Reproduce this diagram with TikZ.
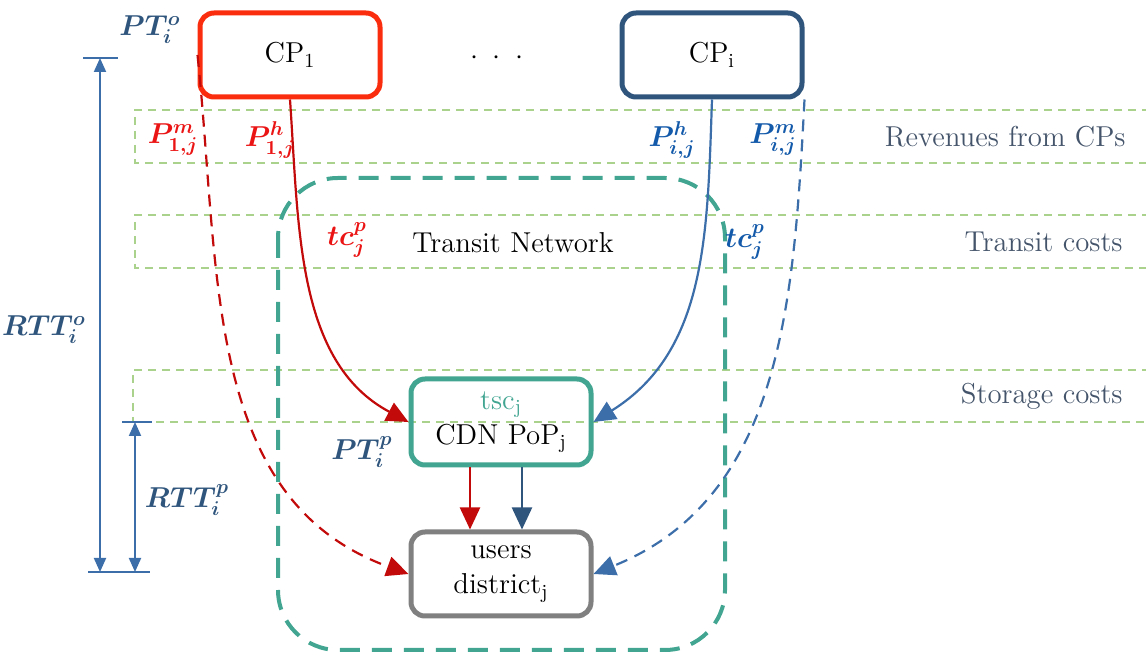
\documentclass[tikz,border=0pt]{standalone}
\usepackage{fontspec}
\usepackage{amsmath,bm}
\usepackage{tikz}
\usetikzlibrary{shapes,arrows,arrows.meta,positioning}
\definecolor{cpred}{RGB}{250,45,15}
\definecolor{cpblue}{RGB}{47,85,125}
\definecolor{arrred}{RGB}{195,10,10}
\definecolor{arrblue}{RGB}{60,110,170}
\definecolor{lblred}{RGB}{235,20,20}
\definecolor{lblblue}{RGB}{20,90,170}
\definecolor{tscteal}{RGB}{65,165,145}
\definecolor{usergray}{RGB}{128,128,128}
\definecolor{bandgreen}{RGB}{170,210,140}
\definecolor{slate}{RGB}{68,84,106}
\tikzstyle{box} = [rectangle, rounded corners=7pt, draw, line width=2.5pt, minimum width=90pt,
    minimum height=42pt, align=center, font=\fontsize{14.4}{17.5}\selectfont]
\tikzstyle{band} = [draw=bandgreen, line width=0.7pt, dash pattern=on 4pt off 3pt]
\tikzstyle{netbox} = [draw=tscteal, line width=2pt, rounded corners=30pt, dash pattern=on 10pt off 6pt]
\tikzstyle{line} = [draw, line width=1.1pt, -{Triangle[length=11pt,width=10pt]}]
\tikzstyle{dashline} = [line, dash pattern=on 6pt off 4pt]
\tikzstyle{dimline} = [draw=arrblue, line width=1pt, {Triangle[length=7pt,width=6pt]}-{Triangle[length=7pt,width=6pt]}]
\tikzstyle{dimtick} = [draw=arrblue, line width=1.2pt]
\tikzstyle{lbl} = [font=\fontsize{14.4}{17}\selectfont, inner sep=1pt]

\begin{document}
\begin{tikzpicture}[x=0.5pt, y=-0.5pt]
    \useasboundingbox (0,0) rectangle (1146,656);

    % Cost bands
    \draw [band] (1150,110) -| (135,163) -- (1150,163);
    \draw [band] (1150,215) -| (135,268) -- (1150,268);
    \draw [band] (1150,370) -| (133,422) -- (1150,422);
    \node [lbl, text=slate, anchor=east] (revenues) at (1128,137) {Revenues from CPs};
    \node [lbl, text=slate, anchor=east] (transitcosts) at (1125,242) {Transit costs};
    \node [lbl, text=slate, anchor=east] (storagecosts) at (1125,396) {Storage costs};

    % Transit network
    \draw [netbox] (278,178) rectangle (725,650);
    \node [lbl] (transit) at (513,243) {Transit Network};

    % Place nodes
    \node [box, draw=cpred] (cpone) at (290,55) {CP$_1$};
    \node [box, draw=cpblue] (cpi) at (712,55) {CP$_\mathrm{i}$};
    \node [lbl] (dots) at (497,58) {$\cdot\;\cdot\;\cdot$};
    \node [box, draw=tscteal, minimum height=43pt] (tsc) at (501,422)
        {\textcolor{tscteal}{tsc$_\mathrm{j}$}\\CDN PoP$_\mathrm{j}$};
    \node [box, draw=usergray, below=31pt of tsc] (users) {users\\district$_\mathrm{j}$};

    % Draw edges
    \path [line, draw=arrred] (cpone.south) to[out=-86, in=152, looseness=0.95] (tsc.west);
    \path [dashline, draw=arrred] (cpone.west) to[out=-84, in=160] (users.west);
    \path [line, draw=arrblue] (cpi.south) to[out=-92, in=32] (tsc.east);
    \path [dashline, draw=arrblue] (cpi.south east) to[out=-93, in=22] (users.east);
    \path [line, draw=arrred] ([xshift=-15.5pt]tsc.south) -- ([xshift=-15.5pt]users.north);
    \path [line, draw=cpblue] ([xshift=10.5pt]tsc.south) -- ([xshift=10.5pt]users.north);

    % Edge labels
    \node [lbl, text=lblred] (pmone) at (173,140) {$\bm{P^m_{1,j}}$};
    \node [lbl, text=lblred] (phone) at (270,140) {$\bm{P^h_{1,j}}$};
    \node [lbl, text=lblblue] (phi) at (672,140) {$\bm{P^h_{i,j}}$};
    \node [lbl, text=lblblue] (pmi) at (773,140) {$\bm{P^m_{i,j}}$};
    \node [lbl, text=lblred] (tcone) at (347,240) {$\bm{tc^p_j}$};
    \node [lbl, text=lblblue] (tci) at (745,242) {$\bm{tc^p_j}$};

    % Delays
    \coordinate (otop) at (100,58);
    \coordinate (obot) at (100,572);
    \coordinate (ptop) at (135,422);
    \coordinate (pbot) at (135,572);
    \path [dimline] (otop) -- (obot);
    \path [dimline] (ptop) -- (pbot);
    \draw [dimtick] ([xshift=-8.5pt]otop) -- ([xshift=9pt]otop);
    \draw [dimtick] ([xshift=-6pt]obot) -- ([xshift=25pt]obot);
    \draw [dimtick] ([xshift=-6.5pt]ptop) -- ([xshift=8.5pt]ptop);
    \node [lbl, text=cpblue] (pto) at (150,30) {$\bm{PT^o_i}$};
    \node [lbl, text=cpblue] (ptp) at (362,452) {$\bm{PT^p_i}$};
    \node [lbl, text=cpblue] (rtto) at (44,330) {$\bm{RTT^o_i}$};
    \node [lbl, text=cpblue] (rttp) at (187,500) {$\bm{RTT^p_i}$};

\end{tikzpicture}
\end{document}
